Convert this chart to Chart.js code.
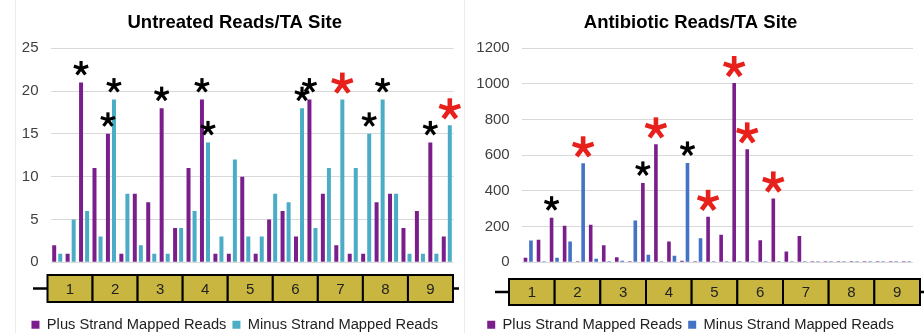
<!DOCTYPE html>
<html>
<head>
<meta charset="utf-8">
<script src="https://cdn.jsdelivr.net/npm/chart.js@4/dist/chart.umd.min.js"></script>
<style>
  html, body { margin: 0; padding: 0; background: #fff; }
  #wrap { position: relative; width: 924px; height: 333px; overflow: hidden; }
  .panel { position: absolute; top: 0; width: 462px; height: 333px; }
  #p1 { left: 0; }
  #p2 { left: 462px; }
  .vline { position: absolute; top: 0; width: 1px; height: 333px; background: #ececec; }
</style>
</head>
<body>
<div id="wrap">
  <div class="vline" style="left:15px"></div>
  <div class="vline" style="left:464px"></div>
  <div class="panel" id="p1"><canvas id="c1" width="462" height="333"></canvas></div>
  <div class="panel" id="p2"><canvas id="c2" width="462" height="333"></canvas></div>
</div>
<script>
// ---------- data ----------
const sites = Array.from({length: 30}, (_, i) => String(i + 1));
const regions = ['1', '2', '3', '4', '5', '6', '7', '8', '9'];
const seriesNames = ['Plus Strand Mapped Reads', 'Minus Strand Mapped Reads'];

const untreatedPlus  = [2, 1, 21, 11, 15, 1, 8, 7, 18, 4, 11, 19, 1, 1, 10, 1, 5, 6, 3, 19, 8, 2, 1, 1, 7, 8, 4, 6, 14, 3];
const untreatedMinus = [1, 5, 6, 3, 19, 8, 2, 1, 1, 4, 6, 14, 3, 12, 3, 3, 8, 7, 18, 4, 11, 19, 11, 15, 19, 8, 1, 1, 1, 16];

const antibioticPlus  = [25, 126, 250, 205, 6, 210, 95, 28, 6, 445, 661, 117, 9, 6, 255, 155, 1005, 633, 124, 358, 60, 147, 6, 6, 6, 6, 6, 6, 6, 6];
const antibioticMinus = [122, 6, 25, 117, 555, 20, 6, 9, 234, 43, 6, 37, 557, 135, 6, 6, 6, 6, 6, 6, 6, 6, 6, 6, 6, 6, 6, 6, 6, 6];

const untreatedTicks = [0, 5, 10, 15, 20, 25];
const antibioticTicks = [0, 200, 400, 600, 800, 1000, 1200];

// significance marks: [series index, site index, colour]
const untreatedStars = [
  [0, 2, 'black'], [0, 4, 'black'], [1, 4, 'black'], [0, 8, 'black'], [0, 11, 'black'], [1, 11, 'black'],
  [1, 18, 'black'], [0, 19, 'black'], [1, 21, 'red'], [1, 23, 'black'], [1, 24, 'black'], [0, 28, 'black'], [1, 29, 'red']
];
const antibioticStars = [
  [0, 2, 'black'], [1, 4, 'red'], [0, 9, 'black'], [0, 10, 'red'], [1, 12, 'black'],
  [0, 14, 'red'], [0, 16, 'red'], [0, 17, 'red'], [0, 19, 'red']
];

// ---------- styling ----------
const PURPLE = '#7A1E8C';
const TEAL = '#4BACC6';
const BLUE = '#4472C4';
const FONT = "'Liberation Sans', Arial, sans-serif";

function drawAsterisk(ctx, cx, cy, r, lw, color) {
  ctx.save();
  ctx.strokeStyle = color;
  ctx.lineWidth = lw;
  ctx.lineCap = 'butt';
  for (let k = 0; k < 5; k++) {
    const a = (-90 + k * 72) * Math.PI / 180;
    ctx.beginPath();
    ctx.moveTo(cx, cy);
    ctx.lineTo(cx + r * Math.cos(a), cy + r * Math.sin(a));
    ctx.stroke();
  }
  ctx.restore();
}

const starPlugin = {
  id: 'stars',
  afterDatasetsDraw(chart, args, opts) {
    const ctx = chart.ctx;
    (opts.list || []).forEach(([s, i, color]) => {
      const el = chart.getDatasetMeta(s).data[i];
      if (!el) return;
      const red = color === 'red';
      const off = red ? 16 : 14;
      const cy = Math.max(el.y - off, chart.chartArea.top - 4);
      drawAsterisk(ctx, el.x, cy, red ? 11 : 7.5, red ? 4.6 : 3.2, red ? '#E8201C' : '#000');
    });
  }
};

const stripPlugin = {
  id: 'strip',
  afterDraw(chart, args, o) {
    if (!o.labels) return;
    const ctx = chart.ctx;
    ctx.save();
    const ymid = o.y + o.h / 2;
    ctx.strokeStyle = '#000';
    ctx.lineWidth = 2.5;
    ctx.beginPath();
    ctx.moveTo(o.lx0, ymid);
    ctx.lineTo(o.lx1, ymid);
    ctx.stroke();
    const n = o.labels.length;
    const w = (o.x1 - o.x0) / n;
    ctx.lineWidth = 2;
    ctx.font = '15px ' + FONT;
    ctx.textAlign = 'center';
    ctx.textBaseline = 'middle';
    o.labels.forEach((lab, k) => {
      const bx = o.x0 + k * w;
      ctx.fillStyle = '#C9B640';
      ctx.fillRect(bx, o.y, w, o.h);
      ctx.strokeRect(bx, o.y, w, o.h);
      ctx.fillStyle = '#222';
      ctx.fillText(lab, bx + w / 2, ymid + 1);
    });
    ctx.restore();
  }
};

function makeChart(id, cfg) {
  return new Chart(document.getElementById(id), {
    type: 'bar',
    data: {
      labels: sites,
      datasets: [
        { label: seriesNames[0], data: cfg.plus, backgroundColor: cfg.c1, borderWidth: 0,
          barPercentage: cfg.barPct, categoryPercentage: cfg.catPct },
        { label: seriesNames[1], data: cfg.minus, backgroundColor: cfg.c2, borderWidth: 0,
          barPercentage: cfg.barPct, categoryPercentage: cfg.catPct }
      ]
    },
    options: {
      responsive: false,
      animation: false,
      layout: { padding: { left: cfg.padLeft, right: cfg.padRight, top: 0, bottom: -9 } },
      scales: {
        x: {
          grid: { display: false },
          border: { display: false },
          ticks: { display: false },
          afterFit: s => { s.height = 49; }
        },
        y: {
          min: 0,
          max: cfg.ticks[cfg.ticks.length - 1],
          afterBuildTicks: s => { s.ticks = cfg.ticks.map(v => ({ value: v })); },
          afterFit: s => { s.width = cfg.yWidth; },
          grid: { color: '#d9d9d9', lineWidth: 1, drawTicks: false },
          border: { display: false },
          ticks: { color: '#404040', font: { family: FONT, size: 15 }, padding: cfg.tickPad,
                   callback: v => String(v) }
        }
      },
      plugins: {
        title: {
          display: true,
          text: cfg.title,
          color: '#000',
          font: { family: FONT, size: 18.5, weight: 'bold' },
          padding: { top: 12, bottom: 14 }
        },
        legend: {
          position: 'bottom',
          labels: {
            boxWidth: 8, boxHeight: 8, padding: 6,
            color: '#222',
            font: { family: FONT, size: 14.7 }
          }
        },
        tooltip: { enabled: false },
        stars: { list: cfg.stars },
        strip: cfg.strip
      }
    },
    plugins: [starPlugin, stripPlugin]
  });
}

makeChart('c1', {
  title: 'Untreated Reads/TA Site',
  plus: untreatedPlus, minus: untreatedMinus, c1: PURPLE, c2: TEAL,
  ticks: untreatedTicks, stars: untreatedStars,
  padLeft: 16, padRight: 8.5, yWidth: 34.5, tickPad: 12,
  barPct: 0.66, catPct: 0.9,
  strip: { labels: regions, x0: 47.5, x1: 453, y: 275, h: 27, lx0: 33, lx1: 459 }
});

makeChart('c2', {
  title: 'Antibiotic Reads/TA Site',
  plus: antibioticPlus, minus: antibioticMinus, c1: PURPLE, c2: BLUE,
  ticks: antibioticTicks, stars: antibioticStars,
  padLeft: 6, padRight: 11, yWidth: 53.7, tickPad: 12,
  barPct: 0.66, catPct: 0.84,
  strip: { labels: regions, x0: 47, x1: 458, y: 279, h: 26, lx0: 33, lx1: 462 }
});
</script>
</body>
</html>
